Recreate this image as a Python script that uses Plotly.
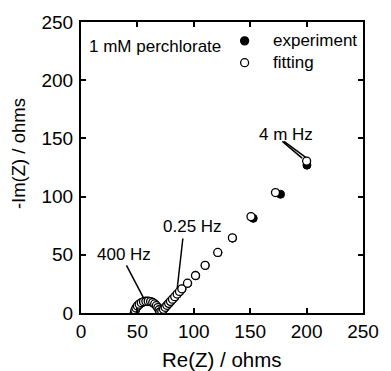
import plotly.graph_objects as go

# ---- data ----
fit_re = [47.3, 47.8, 48.7, 50.0, 51.6, 53.4, 55.4, 57.5, 59.6, 61.7, 63.6, 65.3, 66.8, 68.1, 69.2, 70.0,
          71.6, 73.1, 74.6, 76.1, 77.7, 79.3, 81.1, 83.1, 85.2, 87.3, 89.4, 94.4, 101.5, 110.0, 121.2,
          134.2, 150.7, 172.4, 200.0]
fit_im = [0.4, 2.4, 4.3, 6.1, 7.6, 8.8, 9.7, 10.1, 10.2, 9.8, 9.0, 7.8, 6.3, 4.6, 2.8, 1.0,
          1.6, 3.2, 4.9, 6.6, 8.3, 10.0, 11.9, 14.0, 16.3, 18.5, 20.8, 25.6, 32.2, 41.0, 52.0,
          64.6, 82.8, 103.5, 130.5]
exp_re = [47.6, 48.2, 49.0, 50.3, 51.9, 53.7, 55.7, 57.8, 59.9, 62.0, 63.9, 65.6, 67.1, 68.4, 69.5, 70.6,
          71.8, 73.3, 74.8, 76.3, 77.9, 79.5, 81.3, 83.3, 85.4, 87.5, 89.6, 94.6, 101.7, 110.2, 121.4,
          134.4, 152.7, 176.9, 200.3]
exp_im = [0.2, 2.2, 4.1, 5.9, 7.4, 8.6, 9.5, 9.9, 10.0, 9.6, 8.8, 7.6, 6.1, 4.4, 2.6, 0.4,
          1.4, 3.0, 4.7, 6.4, 8.1, 9.8, 11.7, 13.8, 16.1, 18.3, 20.6, 25.4, 32.0, 40.8, 51.8,
          64.3, 81.3, 102.0, 127.0]

x_ticks = [0, 50, 100, 150, 200, 250]
y_ticks = [0, 50, 100, 150, 200, 250]

series_names = ["experiment", "fitting"]

# annotation texts and their positions (data units)
labels = ["400 Hz", "0.25 Hz", "4 m Hz"]
label_x = [38.0, 99.0, 181.5]
label_y = [50.3, 74.2, 153.5]
# leader lines: start (x0, y0) -> end (x1, y1)
lead_x0 = [40.3, 90.3, 178.5, 180.0]
lead_y0 = [41.0, 64.0, 147.5, 147.5]
lead_x1 = [56.0, 85.3, 196.0, 199.5]
lead_y1 = [12.0, 21.3, 133.0, 133.5]

FONT = "Liberation Sans, Arial, sans-serif"

fig = go.Figure()
fig.add_trace(go.Scatter(
    x=exp_re, y=exp_im, mode="markers", name=series_names[0], showlegend=False,
    marker=dict(symbol="circle", size=8, color="black", line=dict(color="black", width=1)),
))
fig.add_trace(go.Scatter(
    x=fit_re, y=fit_im, mode="markers", name=series_names[1], showlegend=False,
    marker=dict(symbol="circle", size=8, color="white", line=dict(color="black", width=1.3)),
))

shapes = []
for x0, y0, x1, y1 in zip(lead_x0, lead_y0, lead_x1, lead_y1):
    shapes.append(dict(type="line", xref="x", yref="y", x0=x0, y0=y0, x1=x1, y1=y1,
                       line=dict(color="black", width=1.5)))

# manual legend (symbol + label), positioned in paper space
leg_sym_x = 0.5802
leg_txt_x = 0.6724
leg_rows_y = [0.9352, 0.8601]
leg_fill = ["black", "white"]
for fill, yy, name in zip(leg_fill, leg_rows_y, series_names):
    shapes.append(dict(type="circle", xref="paper", yref="paper",
                       xsizemode="pixel", ysizemode="pixel",
                       xanchor=leg_sym_x, yanchor=yy, x0=-4, x1=4, y0=-4, y1=4,
                       fillcolor=fill, line=dict(color="black", width=1.3)))

annotations = []
for fill, yy, name in zip(leg_fill, leg_rows_y, series_names):
    annotations.append(dict(text=name, x=leg_txt_x, y=yy, xref="paper", yref="paper",
                            xanchor="left", yanchor="middle", showarrow=False,
                            font=dict(family=FONT, size=17, color="black")))
for t, x, y in zip(labels, label_x, label_y):
    annotations.append(dict(text=t, x=x, y=y, xref="x", yref="y", showarrow=False,
                            font=dict(family=FONT, size=17, color="black")))
annotations.append(dict(text="1 mM perchlorate", x=0, y=1, xref="paper", yref="paper",
                        xanchor="left", yanchor="middle", xshift=6, yshift=-24, showarrow=False,
                        font=dict(family=FONT, size=17, color="black")))
annotations.append(dict(text="Re(Z) / ohms", x=0.5, y=0, xref="paper", yref="paper",
                        xanchor="center", yanchor="middle", yshift=-46, showarrow=False,
                        font=dict(family=FONT, size=20.5, color="black")))
annotations.append(dict(text="-Im(Z) / ohms", x=0, y=0.546, xref="paper", yref="paper",
                        xanchor="center", yanchor="middle", xshift=-63, textangle=-90, showarrow=False,
                        font=dict(family=FONT, size=18.5, color="black")))

axis_common = dict(
    showgrid=False, zeroline=False, showline=True, linecolor="black", linewidth=2,
    mirror="ticks", ticks="inside", ticklen=5, tickwidth=1.5, tickcolor="black",
    tickfont=dict(family=FONT, size=19, color="black"),
)
fig.update_xaxes(range=[0, 250], tickvals=x_ticks, ticktext=[str(v) for v in x_ticks], **axis_common)
fig.update_yaxes(range=[0, 250], tickvals=y_ticks, ticktext=[str(v) for v in y_ticks],
                 ticklabelstandoff=2, **axis_common)

fig.update_layout(
    width=391, height=371,
    margin=dict(l=81, r=17, t=20, b=58),
    paper_bgcolor="white", plot_bgcolor="white",
    font=dict(family=FONT, color="black"),
    showlegend=False,
    shapes=shapes, annotations=annotations,
)

fig.write_html("out.html")
